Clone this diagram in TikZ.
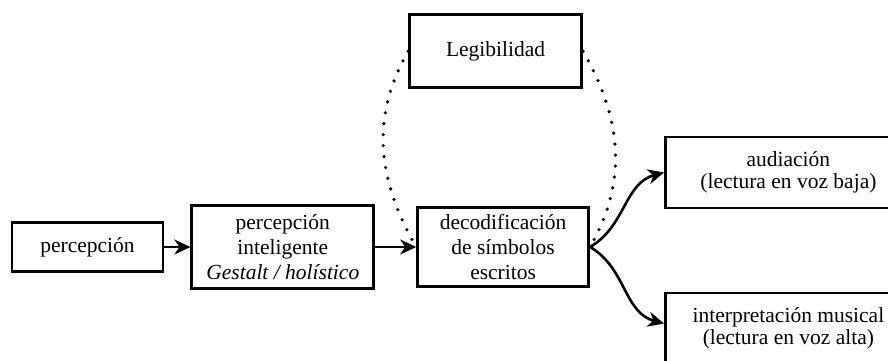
\documentclass[tikz,border=0pt]{standalone}
\usepackage{fontspec}
\setmainfont{Liberation Serif}
\usepackage{tikz}
\usetikzlibrary{arrows.meta, positioning}
\tikzstyle{box} = [draw, line width=2.8pt, inner sep=0pt, align=center, font=\rmfamily\fontsize{21.5}{25}\selectfont]
\tikzstyle{twoline} = [font=\rmfamily\fontsize{21.5}{22.5}\selectfont]
\tikzstyle{dots} = [line width=3.6pt, dash pattern=on 0pt off 11pt, line cap=round]

\begin{document}
\begin{tikzpicture}[>={Stealth[length=16pt, width=15pt, inset=5pt]}, x=1pt, y=1pt, line width=2.6pt]
        \useasboundingbox (0,0) rectangle (888,360);
        \clip (0,0) rectangle (888,360);
        \node[box, minimum width=151pt, minimum height=49pt] (perc) at (87.5,113) {percepción};
        \node[box, minimum width=182pt, minimum height=83pt, right=26pt of perc] (intel) {percepción\\inteligente\\\textit{Gestalt / holístico}};
        \node[box, minimum width=171pt, minimum height=79pt, right=41pt of intel] (decod) {decodificación\\de símbolos\\escritos};
        \node[box, minimum width=172pt, minimum height=73pt, above=117pt of decod, xshift=-7.5pt] (legib) {Legibilidad};
        \node[box, twoline, minimum width=246pt, minimum height=71pt, right=74pt of decod, yshift=74.5pt] (audi) {audiación\\(lectura en voz baja)};
        \node[box, twoline, minimum width=246pt, minimum height=71pt, right=74pt of decod, yshift=-81.5pt] (interp) {interpretación musical\\(lectura en voz alta)};

        \draw[->] (perc) -- (intel);
        \draw[->] (intel) -- (decod);

        \draw[->] (decod.east) to[out=30, in=195] (audi.west);
        \draw[->] (decod.east) to[out=-30, in=165] ([yshift=5pt]interp.west);

        \draw[dots] (legib.west) to[out=240, in=120] (decod.west);
        \draw[dots] (legib.east) to[out=-60, in=60] (decod.east);
    \end{tikzpicture}
\end{document}
